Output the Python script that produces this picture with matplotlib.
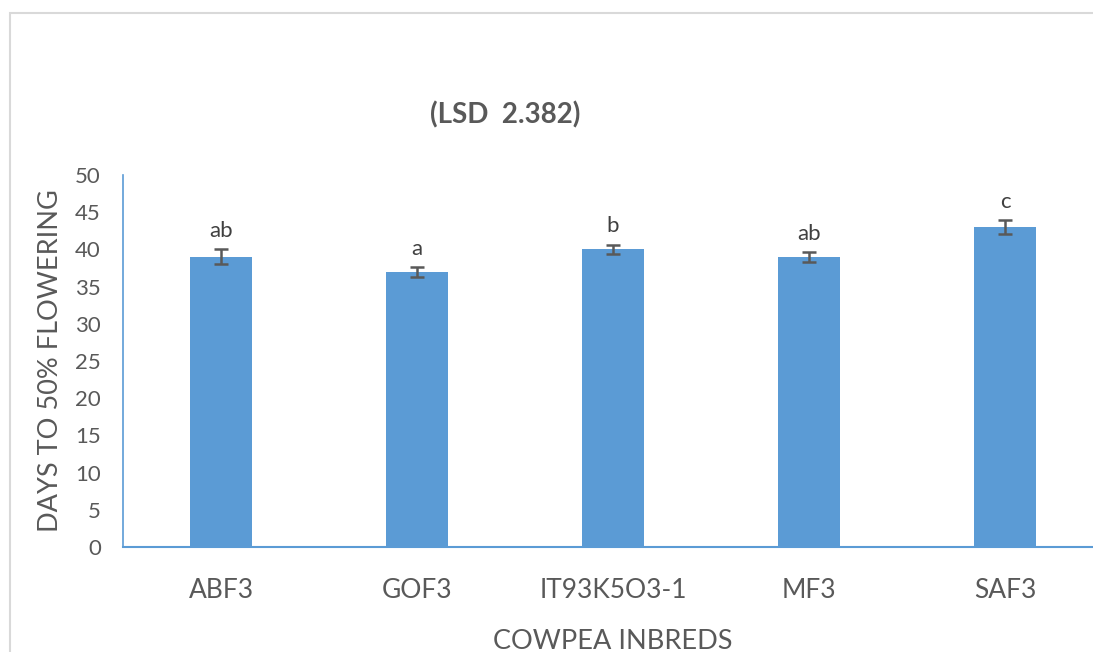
import matplotlib.pyplot as plt
from matplotlib.patches import Rectangle

plt.rcParams['font.family'] = ['Lato', 'DejaVu Sans']

inbreds = ['ABF3', 'GOF3', 'IT93K5O3-1', 'MF3', 'SAF3']
days = [39, 37, 40, 39, 43]
errs = [1.0, 0.65, 0.65, 0.65, 0.9]
letters = ['ab', 'a', 'b', 'ab', 'c']

grey = '#595959'
blue = '#5B9BD5'

fig = plt.figure(figsize=(10.93, 6.52), dpi=100)

# outer chart frame (cropped on the right and bottom)
fig.patches.append(Rectangle((10 / 1093, -0.1), 1.2, 1.1 - 13 / 652,
                             transform=fig.transFigure, fill=False,
                             edgecolor='#D9D9D9', lw=1.5))

ax = fig.add_axes([123 / 1093, 1 - 547 / 652, 980 / 1093, 372 / 652])

x = range(len(inbreds))
ax.bar(x, days, width=0.316, color=blue, zorder=2)
ax.errorbar(x, days, yerr=errs, fmt='none', ecolor=grey, elinewidth=1.8,
            capsize=5, capthick=1.8, zorder=3)

for i, (d, e, l) in enumerate(zip(days, errs, letters)):
    ax.annotate(l, (i, d + e), xytext=(0, 6), textcoords='offset points',
                ha='center', va='bottom', fontsize=16, color='#404040')

ax.set_xlim(-0.5, 4.5)
ax.set_ylim(0, 50)
ax.set_yticks(range(0, 51, 5))
ax.set_xticks(list(x))
ax.set_xticklabels(inbreds)

for s in ['top', 'right']:
    ax.spines[s].set_visible(False)
ax.spines['left'].set_color(blue)
ax.spines['bottom'].set_color(blue)
ax.spines['left'].set_linewidth(1.2)
ax.spines['bottom'].set_linewidth(1.5)

ax.tick_params(axis='y', length=0, labelsize=16, labelcolor=grey, pad=16)
ax.tick_params(axis='x', length=0, labelsize=19, labelcolor=grey, pad=22)

ax.set_ylabel('DAYS TO 50% FLOWERING', fontsize=19.5, color=grey, labelpad=9)
ax.set_xlabel('COWPEA INBREDS', fontsize=19.5, color=grey, labelpad=19)

fig.text(505 / 1093, 1 - 115 / 652, '(LSD  2.382)', ha='center', va='center',
         fontsize=20, fontweight='bold', color=grey)

fig.savefig('out.png', dpi=100)
